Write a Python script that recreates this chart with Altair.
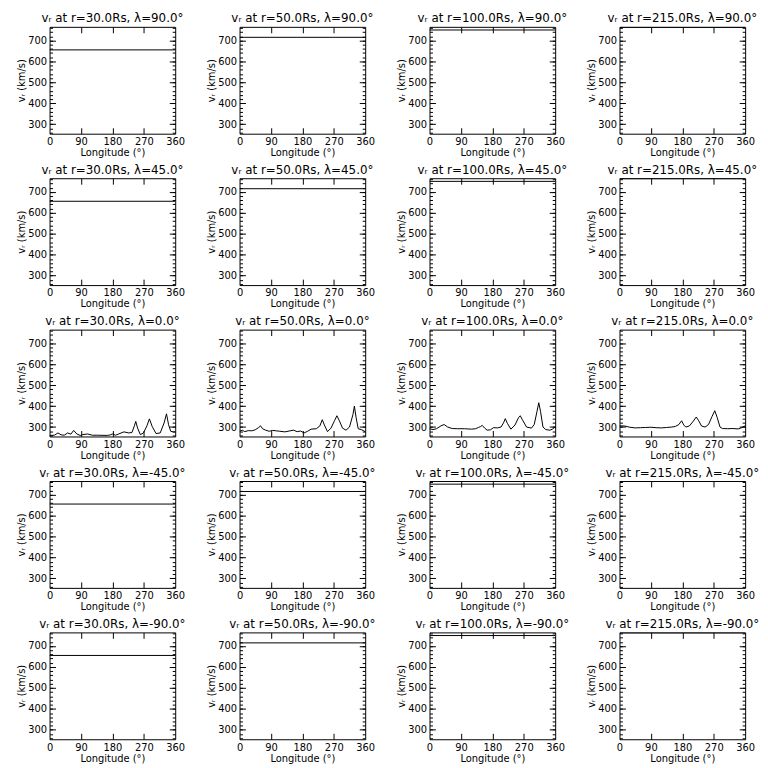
import altair as alt
import pandas as pd

radii = [30.0, 50.0, 100.0, 215.0]
lats = [90.0, 45.0, 0.0, -45.0, -90.0]
# constant speed seen off the equator, one per radius
const_speed = [655, 715, 750, 763]
const_lon = [0, 360]

# equatorial profiles (lambda = 0)
r30_lon = [0, 14, 24, 33, 42, 52, 61, 69, 78, 88, 95, 109, 123, 137, 165, 175, 180, 189, 198, 213,
           227, 236, 243, 247, 252, 260, 269, 279, 286, 294, 305, 317, 328, 335, 341, 347, 354, 360]
r30_v = [260, 261, 272, 263, 261, 272, 266, 284, 267, 260, 264, 267, 261, 261, 260, 263, 267, 261, 267, 277,
         272, 274, 306, 327, 296, 264, 272, 306, 339, 303, 269, 272, 319, 363, 311, 280, 277, 277]

r50_lon = [0, 8, 15, 25, 35, 45, 55, 60, 66, 75, 85, 95, 105, 115, 130, 145, 155, 165, 175, 185,
           195, 205, 220, 230, 237, 243, 252, 262, 272, 279, 286, 295, 305, 315, 325, 329, 334, 340, 350, 360]
r50_v = [280, 285, 278, 283, 282, 287, 298, 306, 292, 285, 280, 284, 282, 280, 277, 282, 285, 278, 281, 272,
         280, 290, 292, 305, 335, 310, 278, 295, 330, 354, 330, 295, 285, 300, 360, 400, 345, 292, 287, 278]

r100_lon = [0, 10, 20, 33, 42, 52, 65, 80, 100, 120, 132, 140, 146, 151, 158, 165, 175, 183, 195, 205,
            212, 217, 223, 233, 245, 255, 260, 266, 278, 292, 300, 308, 313, 318, 325, 333, 345, 352, 360]
r100_v = [292, 288, 292, 306, 312, 300, 293, 292, 292, 290, 292, 298, 302, 308, 295, 285, 287, 297, 296, 300,
          320, 340, 318, 290, 310, 345, 354, 335, 300, 295, 312, 375, 416, 375, 300, 288, 285, 290, 300]

r215_lon = [0, 15, 30, 45, 60, 75, 90, 105, 120, 135, 150, 160, 170, 178, 184, 190, 200, 210, 220, 227,
            235, 245, 255, 265, 273, 280, 288, 295, 310, 325, 340, 350, 360]
r215_v = [306, 305, 299, 296, 297, 298, 299, 297, 296, 298, 300, 303, 312, 330, 310, 300, 305, 325, 348, 330,
          305, 300, 312, 350, 378, 345, 300, 293, 292, 293, 291, 297, 306]

eq_lon = [r30_lon, r50_lon, r100_lon, r215_lon]
eq_v = [r30_v, r50_v, r100_v, r215_v]

x_label_vals = [0, 90, 180, 270, 360]
x_major = [90, 180, 270]
y_label_vals = [300, 400, 500, 600, 700]
y_minor = list(range(260, 761, 20))

FONT = "DejaVu Sans"
xs = alt.Scale(domain=[0, 360], nice=False, zero=False)
ys = alt.Scale(domain=[255, 765], nice=False, zero=False)
W, H = 127, 108


def tick_axis(orient, values, size):
    return alt.Axis(orient=orient, values=values, labels=False, domain=False, grid=False,
                    ticks=True, tickSize=size, offset=-size, tickColor="black", tickWidth=1)


def panel(df, title):
    def lay(xaxis, yaxis, visible=False):
        if visible:
            xt, yt = "Longitude (°)", "vᵣ (km/s)"
        else:
            xt, yt = None, None
        return alt.Chart(df).mark_line(color="black", strokeWidth=1, clip=True,
                                       opacity=1 if visible else 0).encode(
            x=alt.X("lon:Q", scale=xs, axis=xaxis, title=xt),
            y=alt.Y("v:Q", scale=ys, axis=yaxis, title=yt),
        )

    xlab = alt.Axis(orient="bottom", values=x_label_vals, ticks=False, domain=False, grid=False,
                    labelFlush=False, labelOverlap=False, labelFontSize=10, labelPadding=3,
                    titleFontSize=10, titleFontWeight="normal", titlePadding=1, format="d")
    ylab = alt.Axis(orient="left", values=y_label_vals, ticks=False, domain=False, grid=False,
                    labelFlush=False, labelOverlap=False, labelFontSize=10, labelPadding=3,
                    titleFontSize=10, titleFontWeight="normal", titlePadding=1, format="d")
    layers = [
        lay(xlab, ylab, visible=True),
        lay(tick_axis("bottom", x_major, 6), tick_axis("left", y_label_vals, 6)),
        lay(tick_axis("top", x_major, 6), tick_axis("right", y_label_vals, 6)),
        lay(None, tick_axis("left", y_minor, 3)),
        lay(None, tick_axis("right", y_minor, 3)),
    ]
    return alt.layer(*layers).resolve_axis(x="independent", y="independent").properties(
        width=W, height=H,
        title=alt.TitleParams(title, fontSize=12, font=FONT, fontWeight="normal",
                              anchor="middle", frame="group", offset=1, color="black"),
    )


panels = []
for lat in lats:
    for i, r in enumerate(radii):
        if lat == 0.0:
            df = pd.DataFrame({"lon": eq_lon[i], "v": eq_v[i]})
        else:
            df = pd.DataFrame({"lon": const_lon, "v": [const_speed[i]] * len(const_lon)})
        title = f"vᵣ at r={r:.1f}Rs, λ={lat:.1f}°"
        panels.append(panel(df, title))

chart = alt.concat(*panels, columns=4, spacing=alt.RowColnumber(row=45, column=65),
                   bounds="flush").properties(
    padding={"left": 8, "top": 0, "right": 0, "bottom": 0},
    background="white",
).configure_view(stroke="black", strokeWidth=1).configure_axis(
    labelFont=FONT, titleFont=FONT, labelColor="black", titleColor="black"
)

chart.save("out.html", embed_options={"renderer": "svg", "actions": False})
